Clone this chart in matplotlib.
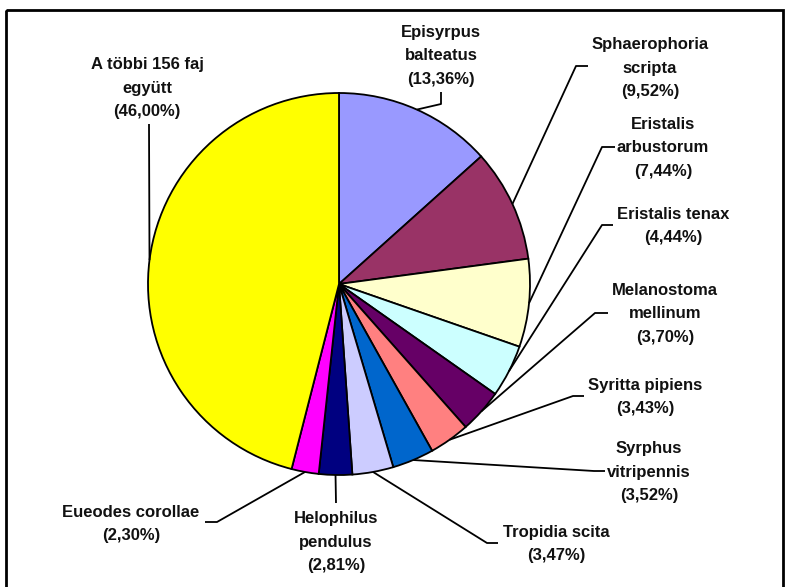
import numpy as np
import matplotlib
matplotlib.use("Agg")
import matplotlib.pyplot as plt
from matplotlib.patches import Rectangle

# Species and their share (%) - clockwise from 12 o'clock
species = ["Episyrpus\nbalteatus", "Sphaerophoria\nscripta", "Eristalis\narbustorum",
           "Eristalis tenax", "Melanostoma\nmellinum", "Syritta pipiens",
           "Syrphus\nvitripennis", "Tropidia scita", "Helophilus\npendulus",
           "Eueodes corollae", "A többi 156 faj\negyütt"]
shares = [13.36, 9.52, 7.44, 4.44, 3.70, 3.43, 3.52, 3.47, 2.81, 2.30, 46.00]
colors = ["#9999FF", "#993366", "#FFFFCC", "#CCFFFF", "#660066", "#FF8080",
          "#0066CC", "#CCCCFF", "#000080", "#FF00FF", "#FFFF00"]

# label layout (pixel coords): text block centre, leader knee, leader end
label_xy = [(441, 55), (650, 67), (663, 147), (673, 225), (665, 313), (645, 396),
            (649, 471), (556, 543), (336, 541), (131, 523), (147, 87)]
knees = [(441, 104), (576, 66), (602, 147), (602, 225), (595, 313), (573, 396),
         (594, 471), (487, 543), (336, 503), (217, 522), (149, 124)]
ends = [(441, 92), (588, 66), (615, 147), (613, 225), (608, 313), (584, 396),
        (605, 471), (498, 543), (336, 503), (205, 522), (149, 124)]

W, H = 789, 587
cx, cy, R = 339, 284, 191
line_h = 23.3

fig = plt.figure(figsize=(W / 100, H / 100), dpi=100)
ax = fig.add_axes([0, 0, 1, 1])

wedges, _ = ax.pie(shares, colors=colors, startangle=-90, counterclock=True,
                   center=(cx, cy), radius=R,
                   wedgeprops=dict(edgecolor="black", linewidth=1.3))

ax.set_xlim(0, W)
ax.set_ylim(H, 0)
ax.set_aspect("auto")
ax.axis("off")

for w, name, v, (lx, ly), kn, en in zip(wedges, species, shares, label_xy, knees, ends):
    mid = np.deg2rad((w.theta1 + w.theta2) / 2)
    px, py = cx + R * np.cos(mid), cy + R * np.sin(mid)
    ax.plot([px, kn[0], en[0]], [py, kn[1], en[1]], color="black", lw=1.3,
            solid_capstyle="butt", zorder=3)
    lines = name.split("\n") + ["(" + f"{v:.2f}".replace(".", ",") + "%)"]
    n = len(lines)
    for i, t in enumerate(lines):
        yy = ly + (i - (n - 1) / 2) * line_h
        ax.text(lx, yy + 5.5, t, ha="center", va="baseline", fontsize=12,
                fontweight="bold", family="Liberation Sans", color="#111111")

# chart frame
ax.add_patch(Rectangle((6, 10), 777, 600, fill=False, edgecolor="black", lw=2,
                       clip_on=True))

fig.savefig("out.png", dpi=100)
